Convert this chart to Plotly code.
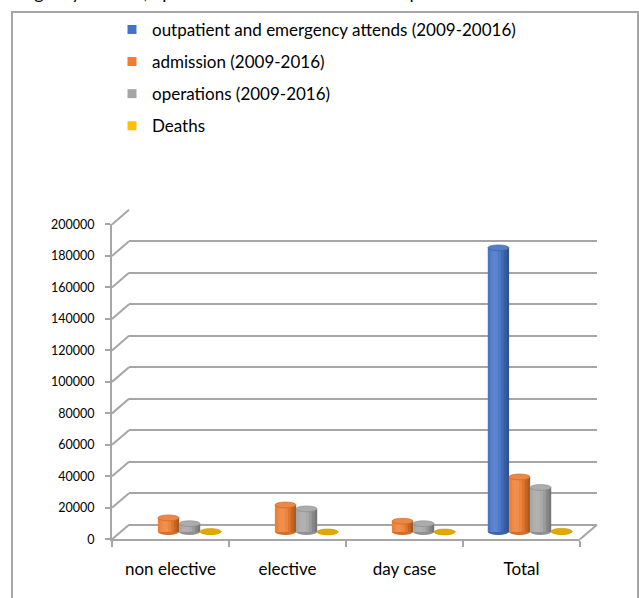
import math
import plotly.graph_objects as go

# ---- data -------------------------------------------------------------
categories = ["non elective", "elective", "day case", "Total"]
series_names = [
    "outpatient and emergency attends (2009-20016)",
    "admission (2009-2016)",
    "operations (2009-2016)",
    "Deaths",
]
outpatient = [None, None, None, 180500]
admission = [9000, 17200, 6900, 35000]
operations = [5300, 14700, 5300, 28300]
deaths = [350, 80, 40, 470]
y_ticks = list(range(0, 200001, 20000))

series_values = [outpatient, admission, operations, deaths]
colors = ["#4472C4", "#ED7D31", "#A5A5A5", "#FFC000"]

# ---- geometry (pixels in a 639x598 page) ------------------------------
W, H = 639, 598
FONT = "Lato"
GRID = "#A6A6A6"
YMAX = 200000

front_x = (112, 580)     # front floor edge
front_y = (545, 222)     # value 0 / value YMAX on the front plane
depth = (17, -15)        # offset of the back wall
YLOW = -10000            # extra room under the floor for cylinder bottoms


def px(x):
    return x / W


def py(y):
    return 1 - y / H


def plane(frac):
    dx, dy = depth[0] * frac, depth[1] * frac
    return (front_x[0] + dx, front_x[1] + dx), (front_y[0] + dy, front_y[1] + dy)


def shade(hex_color, amt):
    r, g, b = (int(hex_color[i:i + 2], 16) for i in (1, 3, 5))
    if amt >= 0:
        r, g, b = (c + (255 - c) * amt for c in (r, g, b))
    else:
        r, g, b = (c * (1 + amt) for c in (r, g, b))
    return "#%02x%02x%02x" % tuple(int(round(max(0, min(255, c)))) for c in (r, g, b))


back_x, back_y = plane(1.0)
mid_x, mid_y = plane(0.5)
px_per_unit = (front_y[0] - front_y[1]) / YMAX
mid_bottom = mid_y[0] + (-YLOW) * px_per_unit

fig = go.Figure()

# back wall: only gridlines
fig.add_trace(go.Scatter(x=[0], y=[0], xaxis="x", yaxis="y", mode="markers",
                         marker=dict(opacity=0), hoverinfo="skip", showlegend=False))

# cylinders on the middle plane
n = len(series_values)
bar_w = 0.18
strips = 8
ry = 3.0 / px_per_unit
shapes = []
xs = list(range(len(categories)))
for j, (name, vals, col) in enumerate(zip(series_names, series_values, colors)):
    left = -bar_w * n / 2 + bar_w * j
    fig.add_trace(go.Bar(
        x=xs, y=vals, width=bar_w, offset=left, xaxis="x2", yaxis="y2",
        marker=dict(color=col, line=dict(width=0)), name=name,
        legendgroup=name, showlegend=False, hovertext=categories,
    ))
    for k in range(strips):
        t = (k + 0.5) / strips
        amt = 0.24 * math.cos(1.3 * math.pi * (t - 0.33)) - 0.09
        fig.add_trace(go.Bar(
            x=xs, y=vals, width=bar_w / strips * 1.05, offset=left + bar_w * k / strips,
            xaxis="x2", yaxis="y2", marker=dict(color=shade(col, amt), line=dict(width=0)),
            showlegend=False, hoverinfo="skip",
        ))
    for i, v in enumerate(vals):
        if v is None:
            continue
        x0, x1 = i + left, i + left + bar_w
        shapes.append(dict(type="circle", xref="x2", yref="y2", x0=x0, x1=x1,
                           y0=-ry, y1=ry, fillcolor=shade(col, -0.12),
                           line=dict(width=0), layer="below"))
        top_fill = shade(col, -0.12) if col == "#FFC000" else shade(col, 0.08)
        shapes.append(dict(type="circle", xref="x2", yref="y2", x0=x0, x1=x1,
                           y0=v - ry, y1=v + ry, fillcolor=top_fill,
                           line=dict(width=0.6, color=shade(col, -0.18)), layer="above"))

# legend entries
for name, col in zip(series_names, colors):
    fig.add_trace(go.Scatter(x=[None], y=[None], xaxis="x3", yaxis="y3", mode="markers",
                             marker=dict(symbol="square", size=9, color=col),
                             name=name, legendgroup=name, showlegend=True))

# front axes (labels, floor edge, left wall)
fig.add_trace(go.Scatter(x=categories, y=[0] * len(categories), xaxis="x3", yaxis="y3",
                         mode="markers", marker=dict(opacity=0), hoverinfo="skip",
                         showlegend=False))

# left wall connectors and right floor edge
for v in y_ticks:
    yf = front_y[0] - v * px_per_unit
    shapes.append(dict(type="line", xref="paper", yref="paper",
                       x0=px(front_x[0]), y0=py(yf),
                       x1=px(back_x[0]), y1=py(yf + depth[1]),
                       line=dict(color=GRID, width=2)))
shapes.append(dict(type="line", xref="paper", yref="paper",
                   x0=px(front_x[1]), y0=py(front_y[0]),
                   x1=px(back_x[1]), y1=py(front_y[0] + depth[1]),
                   line=dict(color=GRID, width=2)))
# outer frame
shapes.append(dict(type="rect", xref="paper", yref="paper",
                   x0=px(12), x1=px(638), y0=-0.2, y1=py(4),
                   line=dict(color=GRID, width=2), fillcolor="rgba(0,0,0,0)"))

fig.update_layout(
    width=W, height=H,
    margin=dict(l=0, r=0, t=0, b=0),
    paper_bgcolor="white", plot_bgcolor="rgba(0,0,0,0)",
    barmode="overlay",
    font=dict(family=FONT, color="#000000"),
    showlegend=True,
    legend=dict(x=px(112), y=py(4), xanchor="left", yanchor="top",
                font=dict(size=17, family=FONT), tracegroupgap=7,
                itemsizing="trace", bgcolor="rgba(0,0,0,0)"),
    xaxis=dict(domain=[px(back_x[0]), px(back_x[1])], range=[0, 1], visible=False,
               anchor="y"),
    yaxis=dict(domain=[py(back_y[0]), py(back_y[1])], range=[0, YMAX], anchor="x",
               showgrid=True, gridcolor=GRID, gridwidth=2, dtick=20000, tick0=0,
               zeroline=True, zerolinecolor=GRID, zerolinewidth=2,
               showticklabels=False, ticks="", showline=False),
    xaxis2=dict(domain=[px(mid_x[0]), px(mid_x[1])], range=[-0.5, len(categories) - 0.5],
                visible=False, anchor="y2"),
    yaxis2=dict(domain=[py(mid_bottom), py(mid_y[1])], range=[YLOW, YMAX],
                visible=False, anchor="x2"),
    xaxis3=dict(domain=[px(front_x[0]), px(front_x[1])], anchor="y3", type="category",
                categoryorder="array", categoryarray=categories,
                range=[-0.5, len(categories) - 0.5],
                tickson="boundaries", ticks="outside", ticklen=6, tickwidth=2,
                tickcolor=GRID, showline=True, linecolor=GRID, linewidth=2,
                showgrid=False, tickfont=dict(size=17, family=FONT),
                ticklabelstandoff=13),
    yaxis3=dict(domain=[py(front_y[0]), py(front_y[1])], range=[0, YMAX], anchor="x3",
                tickvals=y_ticks, ticktext=[str(v) for v in y_ticks],
                ticks="outside", ticklen=5, tickwidth=2, tickcolor=GRID,
                showline=True, linecolor=GRID, linewidth=2, showgrid=False,
                zeroline=False, tickfont=dict(size=12.5, family=FONT),
                ticklabelstandoff=8),
    shapes=shapes,
    annotations=[dict(text="emergency attends, operations and deaths in the hospital from 2009 to 2016",
                      xref="paper", yref="paper", x=px(-8), y=py(-3), xanchor="left",
                      yanchor="bottom", showarrow=False, font=dict(size=18, family=FONT))],
)

fig.write_html("out.html")
